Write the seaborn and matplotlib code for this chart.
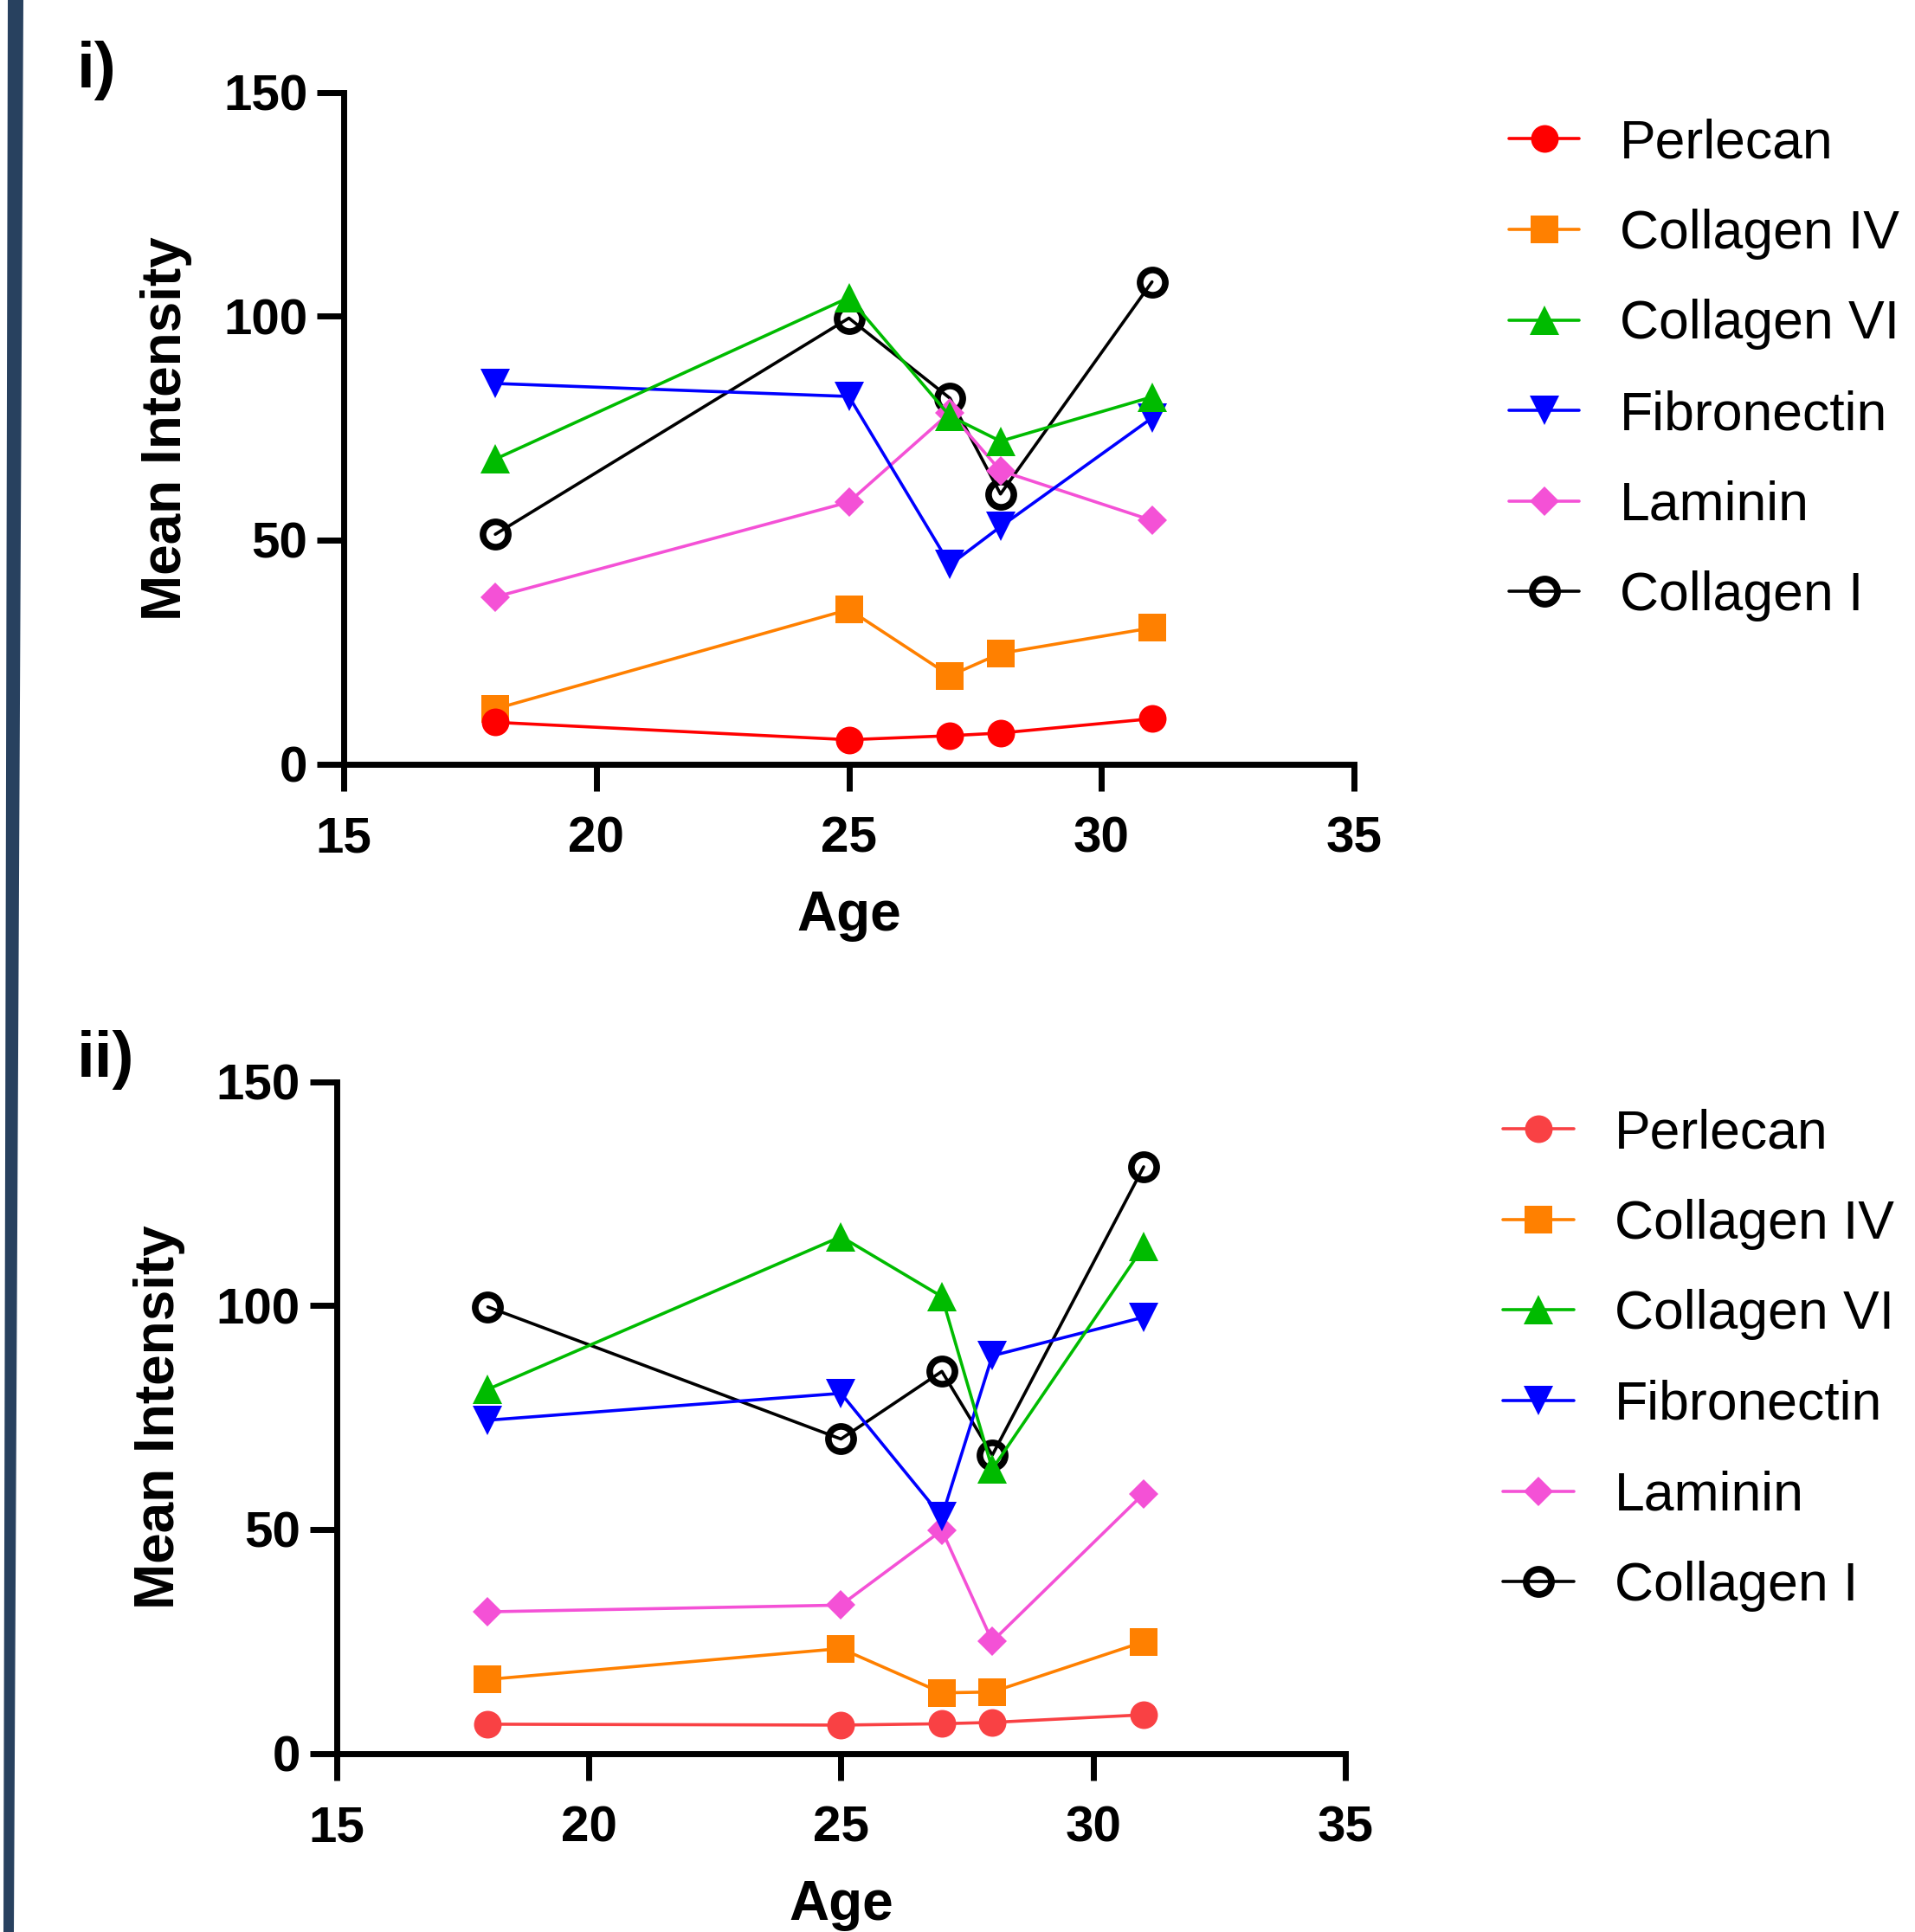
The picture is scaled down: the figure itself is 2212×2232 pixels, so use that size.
# Mean intensity of ECM proteins vs age, two panels
import numpy as np
import pandas as pd
import seaborn as sns
import matplotlib.pyplot as plt
from matplotlib.patches import Polygon

sns.set_theme(style="ticks")
plt.rcParams['font.family'] = ['Liberation Sans', 'DejaVu Sans']
plt.rcParams.update({'text.color': 'black', 'axes.labelcolor': 'black',
                     'xtick.color': 'black', 'ytick.color': 'black',
                     'axes.edgecolor': 'black'})

ages = [18, 25, 27, 28, 31]
proteins = ['Perlecan', 'Collagen IV', 'Collagen VI', 'Fibronectin', 'Laminin', 'Collagen I']

# panel i)
perlecan_i = [9.3, 5.4, 6.3, 6.9, 10.1]
col4_i = [12.3, 34.5, 19.7, 24.7, 30.4]
col6_i = [68.1, 104.2, 77.7, 72.1, 82.0]
fibro_i = [85.0, 82.1, 44.5, 53.0, 77.3]
laminin_i = [37.3, 58.5, 78.5, 65.5, 54.4]
col1_i = [51.3, 99.6, 81.7, 60.3, 107.7]

# panel ii)
perlecan_ii = [6.5, 6.3, 6.6, 6.9, 8.6]
col4_ii = [16.5, 23.4, 13.5, 13.7, 24.9]
col6_ii = [81.3, 115.4, 102.0, 63.5, 113.2]
fibro_ii = [74.4, 80.4, 52.8, 88.8, 97.4]
laminin_ii = [31.6, 33.1, 49.8, 25.0, 58.0]
col1_ii = [99.7, 70.2, 85.3, 66.6, 131.0]

panel_i = [perlecan_i, col4_i, col6_i, fibro_i, laminin_i, col1_i]
panel_ii = [perlecan_ii, col4_ii, col6_ii, fibro_ii, laminin_ii, col1_ii]

colors_i = ['#ff0000', '#ff8000', '#00bb00', '#0000ff', '#f451d6', '#000000']
colors_ii = ['#f94144', '#ff8000', '#00bb00', '#0000ff', '#f451d6', '#000000']
markers = ['o', 's', '^', 'v', 'D', 'o']
msizes = [23, 23, 25, 25, 17, 21]

fig = plt.figure(figsize=(22.12, 22.32), dpi=100)
ax1 = fig.add_axes([0.1795, 0.6046, 0.5276, 0.3475])
ax2 = fig.add_axes([0.1757, 0.0925, 0.5269, 0.3476])


def draw(ax, series, colors, leg_x, leg_y):
    # draw last series first so Perlecan ends on top
    for i in reversed(range(len(proteins))):
        if proteins[i] == 'Collagen I':
            sns.lineplot(x=ages, y=series[i], ax=ax, color=colors[i], marker='o',
                         markersize=msizes[i], markerfacecolor='none',
                         markeredgecolor=colors[i], markeredgewidth=5.5,
                         linewidth=2.6, label=proteins[i])
        else:
            sns.lineplot(x=ages, y=series[i], ax=ax, color=colors[i], marker=markers[i],
                         markersize=msizes[i], markeredgecolor=colors[i],
                         markeredgewidth=0, linewidth=2.6, label=proteins[i])
    ax.set_xlim(15, 35)
    ax.set_ylim(0, 150)
    ax.set_xticks([15, 20, 25, 30, 35])
    ax.set_yticks([0, 50, 100, 150])
    for s in ['top', 'right']:
        ax.spines[s].set_visible(False)
    for s in ['left', 'bottom']:
        ax.spines[s].set_linewidth(5)
        ax.spines[s].set_color('black')
    ax.tick_params(direction='out', length=22, width=5, labelsize=42, colors='black')
    ax.tick_params(axis='x', pad=21)
    ax.tick_params(axis='y', pad=8)
    for lab in ax.get_xticklabels() + ax.get_yticklabels():
        lab.set_fontweight('bold')
    ax.set_xlabel('Age', fontsize=46, fontweight='bold', labelpad=23)
    ax.set_ylabel('Mean Intensity', fontsize=46, fontweight='bold', labelpad=26)
    handles, labels = ax.get_legend_handles_labels()
    ax.legend(handles[::-1], labels[::-1], loc='upper left',
              bbox_to_anchor=(leg_x, leg_y), bbox_transform=fig.transFigure,
              frameon=False, fontsize=45, handlelength=1.3, handletextpad=0.75,
              labelspacing=0.73, borderaxespad=0, borderpad=0)


draw(ax1, panel_i, colors_i, 0.788, 0.939)
draw(ax2, panel_ii, colors_ii, 0.785, 0.4265)

fig.text(0.040, 0.979, 'i)', fontsize=54, fontweight='bold', va='top', ha='left')
fig.text(0.040, 0.467, 'ii)', fontsize=54, fontweight='bold', va='top', ha='left')

# dark blue strip on the left edge
fig.patches.append(Polygon([[9 / 2212, 1], [27 / 2212, 1], [16 / 2212, 0], [4 / 2212, 0]],
                           closed=True, transform=fig.transFigure,
                           facecolor='#28415f', edgecolor='none'))

fig.savefig('out.png', dpi=100)
